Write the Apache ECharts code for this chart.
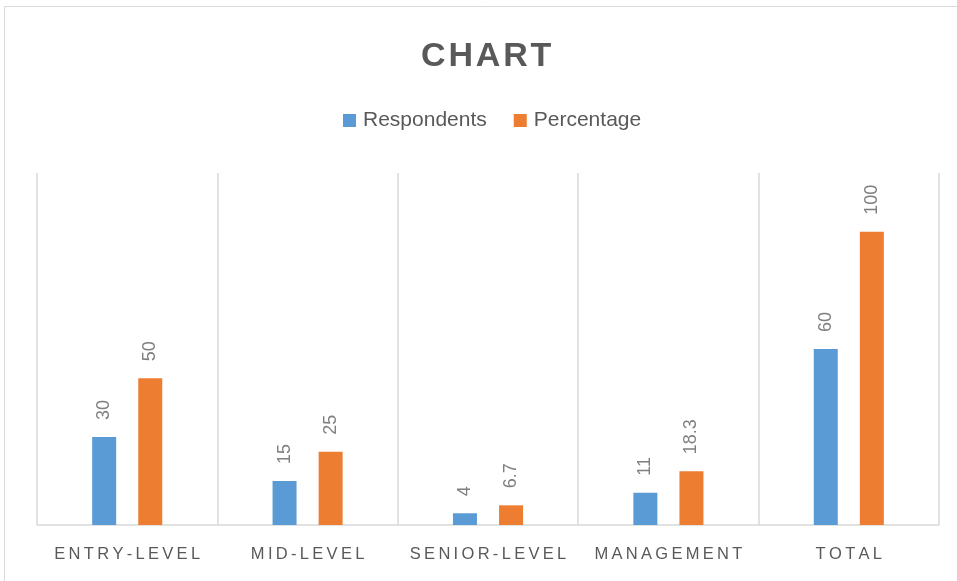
<!DOCTYPE html>
<html>
<head>
<meta charset="utf-8">
<script src="https://cdn.jsdelivr.net/npm/echarts@6/dist/echarts.min.js"></script>
<style>
  html, body { margin: 0; padding: 0; background: #fff; }
  #chart { width: 957px; height: 581px; }
</style>
</head>
<body>
<div id="chart"></div>
<script>
// Survey breakdown by career level
const categories = ['ENTRY-LEVEL', 'MID-LEVEL', 'SENIOR-LEVEL', 'MANAGEMENT', 'TOTAL'];
const respondents = [30, 15, 4, 11, 60];
const percentage = [50, 25, 6.7, 18.3, 100];

const chart = echarts.init(document.getElementById('chart'));

// spread letters out for the wide-tracked captions
const track = (s, sp) => s.split('').join(sp);

const valueLabel = {
  show: true,
  position: 'top',
  rotate: 90,
  align: 'left',
  verticalAlign: 'middle',
  distance: 17,
  color: '#7f7f7f',
  fontFamily: 'Liberation Sans',
  fontSize: 18
};

chart.setOption({
  animation: false,
  backgroundColor: '#ffffff',
  title: {
    text: track('CHART', '\u200A'),
    left: 416,
    top: 35,
    textStyle: {
      fontFamily: 'Liberation Sans',
      fontWeight: 'bold',
      fontSize: 34,
      color: '#595959'
    }
  },
  legend: {
    top: 105,
    left: 338,
    itemWidth: 13,
    itemHeight: 13,
    itemGap: 27,
    icon: 'rect',
    textStyle: {
      fontFamily: 'Liberation Sans',
      fontSize: 21,
      color: '#595959',
      padding: [0, 0, 0, 2]
    },
    data: ['Respondents', 'Percentage']
  },
  grid: { left: 37, right: 18, top: 173, bottom: 56, containLabel: false },
  xAxis: {
    type: 'category',
    data: categories,
    boundaryGap: true,
    axisLine: { show: true, lineStyle: { color: '#d9d9d9', width: 1.5 } },
    axisTick: { show: false },
    splitLine: { show: true, interval: 0, lineStyle: { color: '#d9d9d9', width: 1.5 } },
    axisLabel: {
      interval: 0,
      margin: 21,
      color: '#595959',
      fontFamily: 'Liberation Sans',
      fontSize: 16.5,
      formatter: s => track(s, '\u2009')
    }
  },
  yAxis: {
    type: 'value',
    min: 0,
    max: 120,
    interval: 20,
    show: false,
    splitLine: { show: false }
  },
  series: [
    {
      name: 'Respondents',
      type: 'bar',
      data: respondents,
      barWidth: 24,
      barGap: '92%',
      itemStyle: { color: '#5b9bd5' },
      label: valueLabel
    },
    {
      name: 'Percentage',
      type: 'bar',
      data: percentage,
      barWidth: 24,
      itemStyle: { color: '#ed7d31' },
      label: valueLabel
    }
  ],
  graphic: [{
    type: 'rect',
    shape: { x: 4.5, y: 6.5, width: 1000, height: 1000 },
    style: { fill: 'none', stroke: '#d9d9d9', lineWidth: 1 },
    silent: true,
    z: -1
  }]
});
</script>
</body>
</html>
